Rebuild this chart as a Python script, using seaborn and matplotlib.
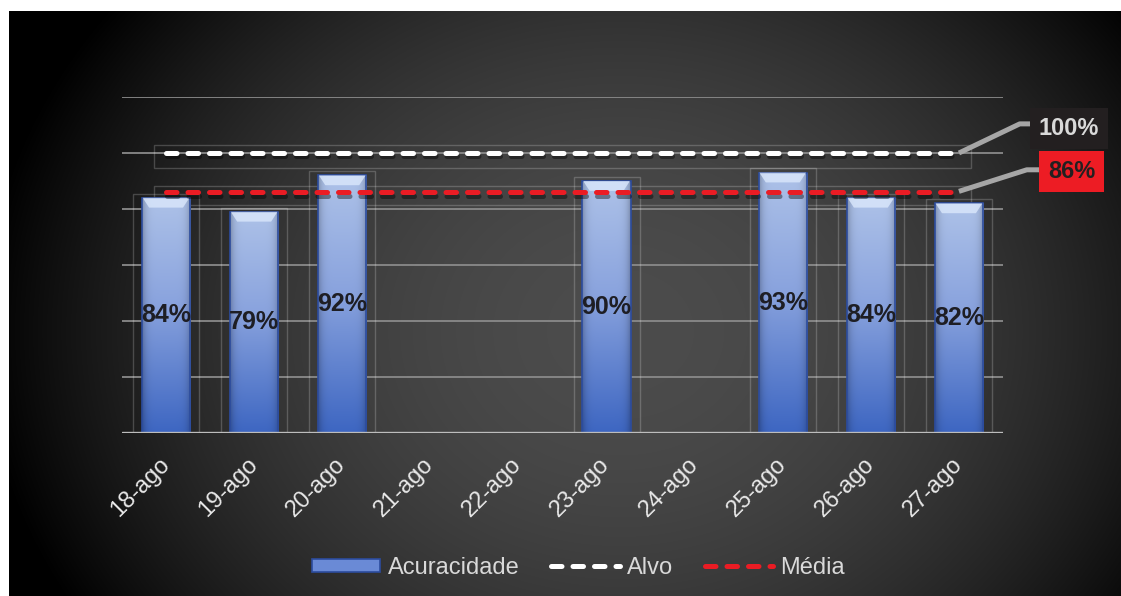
import numpy as np
import pandas as pd
import matplotlib
matplotlib.use("Agg")
import matplotlib.pyplot as plt
import matplotlib.patheffects as pe
from matplotlib.patches import Rectangle, Patch
from matplotlib.lines import Line2D
import seaborn as sns

# ---- data ----
categories = ["18-ago", "19-ago", "20-ago", "21-ago", "22-ago",
              "23-ago", "24-ago", "25-ago", "26-ago", "27-ago"]
acuracidade = [84, 79, 92, None, None, 90, None, 93, 84, 82]
alvo = [100] * 10
media = [86] * 10
alvo_label = "100%"
media_label = "86%"
legend_labels = ["Acuracidade", "Alvo", "Média"]

sns.set_theme(style="dark")
plt.rcParams["font.family"] = ["Liberation Sans", "DejaVu Sans"]

W, H = 1121, 596
fig = plt.figure(figsize=(W / 100, H / 100), dpi=100)
fig.patch.set_facecolor("white")

# background radial gradient
bg = fig.add_axes([9 / W, 0, 1 - 9 / W, 1 - 11 / H], zorder=-10)
yy, xx = np.mgrid[0:585, 0:1112]
cx, cy, rx, ry = 611, 320, 640, 540
r = np.sqrt(((xx - cx) / rx) ** 2 + ((yy - cy) / ry) ** 2)
val = np.clip(1 - r ** 2, 0, 1) * 76 / 255
bg.imshow(np.dstack([val, val, val]), aspect="auto", extent=[0, 1, 0, 1])
bg.set_axis_off()

# main axes
ax = fig.add_axes([122 / W, 163 / H, 881 / W, 336 / H])
ax.set_facecolor("none")

df = pd.DataFrame({"dia": categories, "valor": acuracidade}).dropna()
sns.barplot(data=df, x="dia", y="valor", order=categories, width=0.55,
            color="#5b7fd0", ax=ax, zorder=3)

ax.set_xlim(-0.5, len(categories) - 0.5)
ax.set_ylim(0, 120)
ax.set_yticks(range(0, 121, 20))
ax.set_yticklabels([])
ax.tick_params(axis="y", length=0)
for y in range(20, 121, 20):
    ax.axhline(y, color="#8a8a8a", lw=1.3, zorder=1)
ax.axhline(0, color="#bdbdbd", lw=2.4, zorder=4)
for s in ax.spines.values():
    s.set_visible(False)
ax.set_xlabel("")
ax.set_ylabel("")

# gradient fill for bars
top = np.array([0.68, 0.76, 0.91])
mid = np.array([0.54, 0.64, 0.87])
bot = np.array([0.24, 0.40, 0.76])
ny, nx = 200, 60
tv = np.linspace(0, 1, ny)[:, None, None]
colv = np.where(tv < 0.45,
                top + (mid - top) * (tv / 0.45),
                mid + (bot - mid) * ((tv - 0.45) / 0.55))
colv = np.repeat(colv, nx, axis=1)
hx = np.linspace(-1, 1, nx)
shade = 1 - 0.25 * np.abs(hx) ** 6
grad = np.clip(colv * shade[None, :, None], 0, 1)

for p, v in zip(ax.patches, df["valor"]):
    x0, w, h = p.get_x(), p.get_width(), p.get_height()
    p.set_facecolor("none")
    p.set_edgecolor("#2c4c9e")
    p.set_linewidth(1.2)
    im = ax.imshow(grad, extent=[x0, x0 + w, 0, h], aspect="auto",
                   zorder=2.5, origin="upper")
    im.set_clip_path(p)
    # top bevel highlight
    ax.add_patch(plt.Polygon([[x0 + 0.01, h], [x0 + w - 0.01, h],
                              [x0 + w * 0.85, h - 3.5], [x0 + w * 0.15, h - 3.5]],
                             closed=True, facecolor=(0.86, 0.91, 0.99, 0.8),
                             edgecolor="none", zorder=3.5))
    # faint shadow box
    ax.add_patch(Rectangle((x0 - 0.1, 0), w + 0.2, h + 1.5, fill=False,
                           edgecolor=(1, 1, 1, 0.2), lw=1, zorder=2))
    ax.text(x0 + w / 2, h / 2, f"{v:.0f}%", ha="center", va="center",
            fontsize=18, fontweight="bold", color="#1e1e24", zorder=5)

xs = np.arange(len(categories))
shadow = [pe.SimpleLineShadow(offset=(1, -2.5), alpha=0.4, shadow_color="black"), pe.Normal()]
dash = (0, (2.1, 2.2))
ax.plot(xs, alvo, color="white", lw=3.6, ls=dash,
        dash_capstyle="round", zorder=6, path_effects=shadow)
ax.plot(xs, media, color="#ea1c24", lw=3.6, ls=dash,
        dash_capstyle="round", zorder=6, path_effects=shadow)
ax.add_patch(Rectangle((-0.137, 94.6), 9.27, 8.3, fill=False,
                       edgecolor=(1, 1, 1, 0.2), lw=1, zorder=2))
ax.add_patch(Rectangle((-0.137, 81.5), 9.27, 6.8, fill=False,
                       edgecolor=(1, 1, 1, 0.2), lw=1, zorder=2))

# callouts
ax.plot([9.0, 9.69, 9.83], [100, 110.4, 110.4], color="#a6a6a6", lw=3.6,
        clip_on=False, zorder=5, solid_capstyle="butt")
ax.plot([9.0, 9.77, 9.93], [86.3, 94.0, 94.0], color="#a6a6a6", lw=3.6,
        clip_on=False, zorder=5, solid_capstyle="butt")
ax.text(10.25, 108.6, alvo_label, ha="center", va="center", fontsize=17,
        fontweight="bold", color="#d9d9d9", clip_on=False, zorder=7,
        bbox=dict(boxstyle="square,pad=0.38", fc="#231f20", ec="none"))
ax.text(10.28, 93.5, media_label, ha="center", va="center", fontsize=17,
        fontweight="bold", color="#231f20", clip_on=False, zorder=7,
        bbox=dict(boxstyle="square,pad=0.38", fc="#ed1c24", ec="none"))

# x tick labels
ax.set_xticks(xs)
ax.set_xticklabels(categories, rotation=45, ha="right", va="center",
                   rotation_mode="anchor", fontsize=17, color="#e8e8e8")
ax.tick_params(axis="x", length=0, pad=20)

# legend
handles = [Patch(facecolor="#6a8ad6", edgecolor="#2c4c9e", lw=1.2),
           Line2D([0], [0], color="white", lw=3.6, ls=dash, dash_capstyle="round"),
           Line2D([0], [0], color="#ea1c24", lw=3.6, ls=dash, dash_capstyle="round")]
leg = fig.legend(handles, legend_labels, loc="center",
                 bbox_to_anchor=(0.516, 1 - 568 / H), ncol=3, frameon=False,
                 fontsize=17, handlelength=2.9, handleheight=0.5,
                 handletextpad=0.3, columnspacing=1.35)
for t in leg.get_texts():
    t.set_color("#d9d9d9")

fig.savefig("out.png", dpi=100, facecolor=fig.get_facecolor())
